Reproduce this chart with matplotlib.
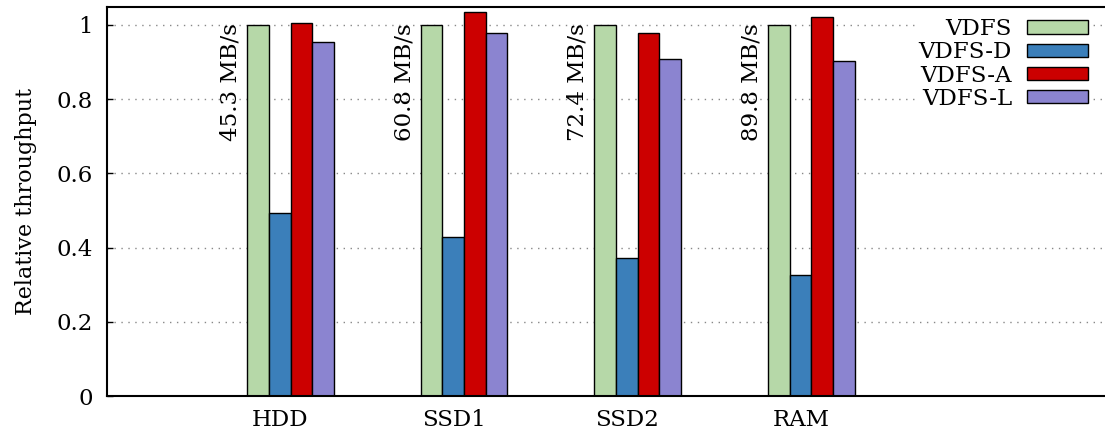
import matplotlib

matplotlib.use("Agg")
import matplotlib.pyplot as plt
import numpy as np

categories = ["HDD", "SSD1", "SSD2", "RAM"]
series_names = ["VDFS", "VDFS-D", "VDFS-A", "VDFS-L"]
vdfs = [1.0, 1.0, 1.0, 1.0]
vdfs_d = [0.493, 0.428, 0.373, 0.326]
vdfs_a = [1.005, 1.036, 0.978, 1.022]
vdfs_l = [0.954, 0.979, 0.908, 0.903]
baseline_labels = ["45.3 MB/s", "60.8 MB/s", "72.4 MB/s", "89.8 MB/s"]
yticks = [0, 0.2, 0.4, 0.6, 0.8, 1.0]
ytick_labels = ["0", "0.2", "0.4", "0.6", "0.8", "1"]

colors = ["#b6d8a8", "#3b7fba", "#cc0000", "#8b84d0"]

plt.rcParams["font.family"] = ["DejaVu Serif"]
plt.rcParams["font.size"] = 16.5

fig = plt.figure(figsize=(11.05, 4.37), dpi=100)
ax = fig.add_axes([0.0964, 0.0938, 0.9425, 0.890])

x = np.arange(len(categories))
width = 0.125
first_left = -0.19
for i, (name, vals) in enumerate(zip(series_names, [vdfs, vdfs_d, vdfs_a, vdfs_l])):
    ax.bar(x + first_left + i * width, vals, width=width, align="edge",
           color=colors[i], edgecolor="black", linewidth=1.0, label=name, zorder=2)

for xi, lab in zip(x, baseline_labels):
    ax.annotate(lab, xy=(xi + first_left, 1.0), xytext=(-4, 1), textcoords="offset points",
                rotation=90, ha="right", va="top", fontsize=16.5, zorder=3)

ax.set_xlim(-1.0, 5.0)
ax.set_ylim(0, 1.048)
ax.set_xticks(x)
ax.set_xticklabels(categories)
ax.set_yticks(yticks)
ax.set_yticklabels(ytick_labels)
ax.tick_params(axis="x", length=0, pad=9)
ax.tick_params(axis="y", direction="in", length=4, width=1, pad=10)
ax.set_ylabel("Relative throughput", fontsize=16, labelpad=14)
ax.yaxis.grid(True, linestyle=(0, (1, 4)), color="#888888", linewidth=1.0, zorder=0)
ax.set_axisbelow(True)
for sp in ax.spines.values():
    sp.set_linewidth(1.5)

leg = ax.legend(loc="upper right", bbox_to_anchor=(1090 / 1105, 1 - 16 / 437),
                bbox_transform=fig.transFigure, markerfirst=False, frameon=True,
                handlelength=2.65, handleheight=0.52, labelspacing=0.05,
                handletextpad=0.65, borderpad=0.1, borderaxespad=0)
leg.get_frame().set_facecolor("white")
leg.get_frame().set_edgecolor("none")
leg.get_frame().set_alpha(1.0)

fig.savefig("out.png", dpi=100)
